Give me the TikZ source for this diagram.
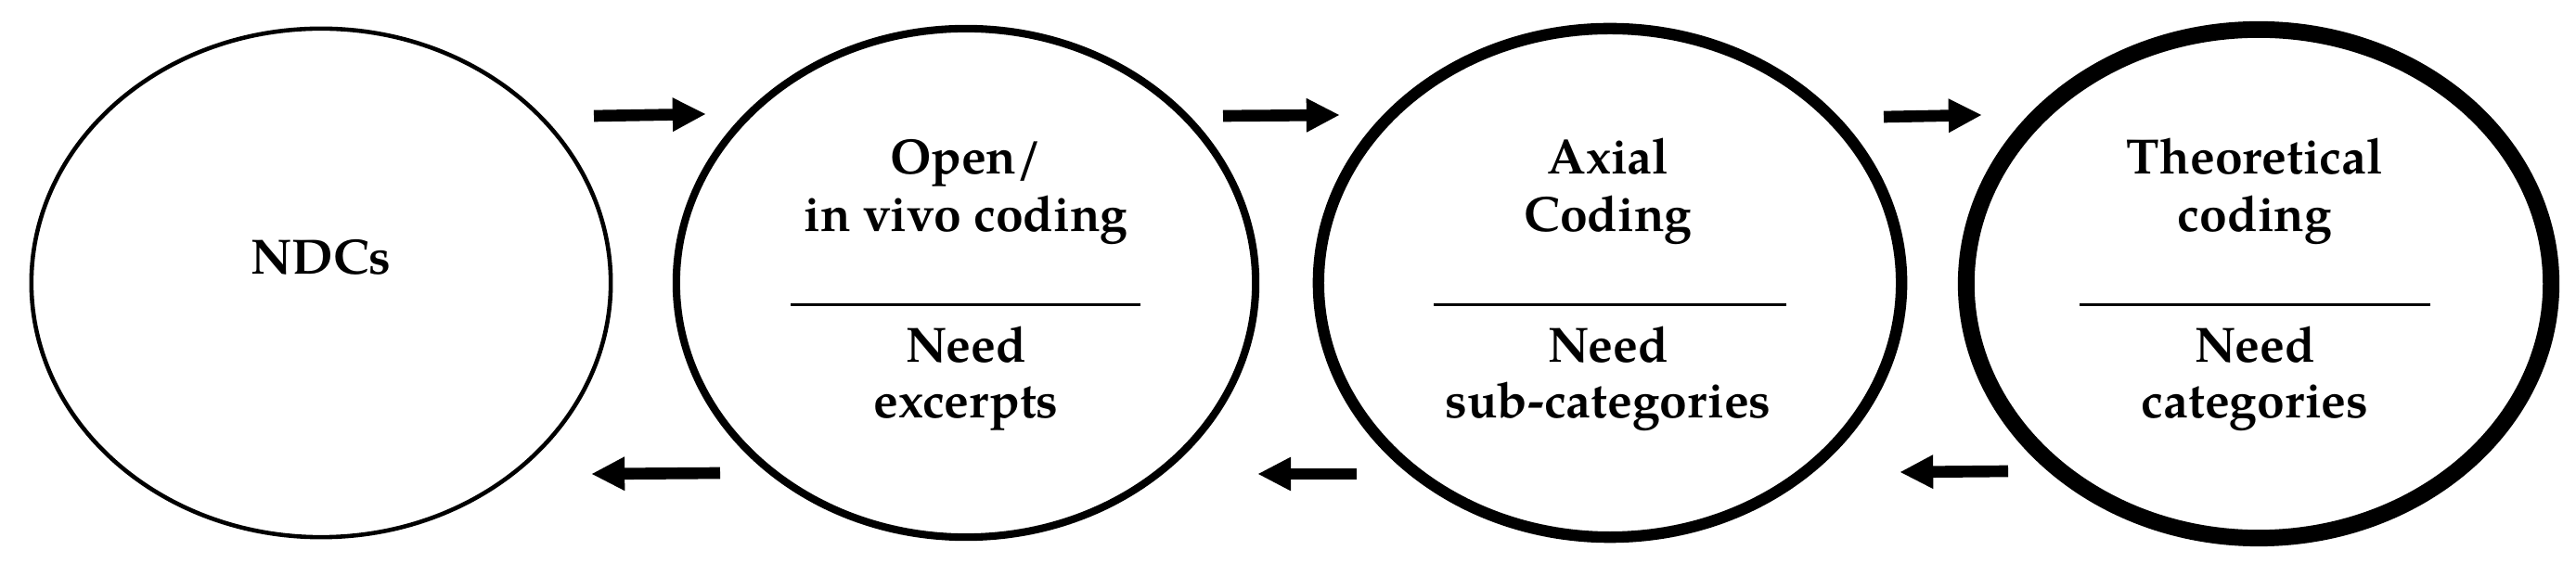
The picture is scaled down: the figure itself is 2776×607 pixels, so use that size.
\documentclass[tikz,border=0pt]{standalone}
\usepackage{fontspec}
\setmainfont{TeX Gyre Pagella}
\usetikzlibrary{shapes.geometric,arrows.meta}
\tikzset{
  ring/.style={draw, ellipse, inner sep=0pt, minimum width=#1, minimum height=5.48cm},
  lbl/.style={anchor=base, inner sep=0pt, font=\fontsize{15.2}{18.2}\selectfont\bfseries},
  flow/.style={line width=3.6pt, -{Triangle[length=10pt,width=10.5pt,line width=0pt]}},
  divider/.style={line width=0.85pt}
}
\begin{document}
\begin{tikzpicture}[x=0.01cm,y=-0.01cm]
\useasboundingbox (0,0) rectangle (2776,607);
% circles
\node[ring=6.24cm, line width=1.3pt] (c1) at (346,305) {};
\node[ring=6.24cm, line width=2.3pt] (c2) at (1041,305) {};
\node[ring=6.28cm, line width=3.5pt] (c3) at (1735,305) {};
\node[ring=6.30cm, line width=5.1pt] (c4) at (2434,306) {};
% texts
\node[lbl] (t1) at (346,296) {NDCs};
\node[lbl] (t2a) at (1041,188) {Open/};
\node[lbl] (t2b) at (1041,250) {in vivo coding};
\node[lbl] (t2c) at (1041,391) {Need};
\node[lbl] (t2d) at (1041,451) {excerpts};
\node[lbl] (t3a) at (1733,188) {Axial};
\node[lbl] (t3b) at (1733,250) {Coding};
\node[lbl] (t3c) at (1733,391) {Need};
\node[lbl] (t3d) at (1733,451) {sub-categories};
\node[lbl] (t4a) at (2430,188) {Theoretical};
\node[lbl] (t4b) at (2430,250) {coding};
\node[lbl] (t4c) at (2430,391) {Need};
\node[lbl] (t4d) at (2430,451) {categories};
% dividers
\coordinate (d2l) at (852,329); \coordinate (d2r) at (1229,329);
\coordinate (d3l) at (1545,329); \coordinate (d3r) at (1925,329);
\coordinate (d4l) at (2241,329); \coordinate (d4r) at (2619,329);
\draw[divider] (d2l) -- (d2r);
\draw[divider] (d3l) -- (d3r);
\draw[divider] (d4l) -- (d4r);
% forward arrows
\coordinate (f1s) at (640,125); \coordinate (f1e) at (760,123);
\coordinate (f2s) at (1318,125); \coordinate (f2e) at (1443,124);
\coordinate (f3s) at (2030,126); \coordinate (f3e) at (2135,124);
\draw[flow] (f1s) -- (f1e);
\draw[flow] (f2s) -- (f2e);
\draw[flow] (f3s) -- (f3e);
% backward arrows
\coordinate (b1s) at (776,510); \coordinate (b1e) at (638,511);
\coordinate (b2s) at (1462,511); \coordinate (b2e) at (1356,511);
\coordinate (b3s) at (2164,508); \coordinate (b3e) at (2048,509);
\draw[flow] (b1s) -- (b1e);
\draw[flow] (b2s) -- (b2e);
\draw[flow] (b3s) -- (b3e);
\end{tikzpicture}
\end{document}
